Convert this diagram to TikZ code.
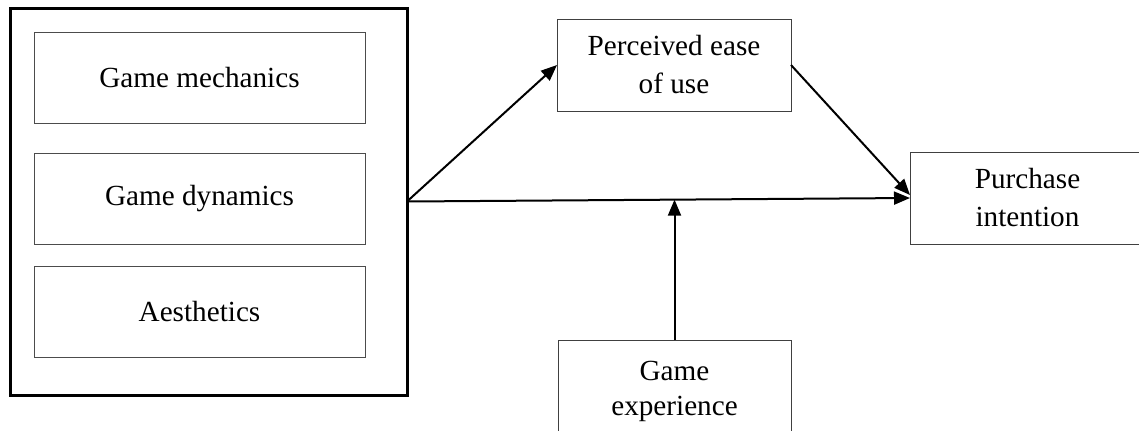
\documentclass[tikz,border=0pt]{standalone}
\usepackage{fontspec}
\setmainfont{Liberation Serif}
\usetikzlibrary{arrows.meta,calc}
\begin{document}
\begin{tikzpicture}[x=0.5pt,y=-0.5pt,
  every node/.style={inner sep=0pt,outer sep=0pt},
  bigfont/.style={font=\fontsize{14.6pt}{19pt}\selectfont},
  gefont/.style={font=\fontsize{14.6pt}{17.5pt}\selectfont},
  innerbox/.style={draw=black!70,line width=0.5pt,minimum width=165.5pt,minimum height=45.5pt,bigfont},
  factorbox/.style={draw=black!75,line width=0.5pt,align=center},
  groupbox/.style={draw=black,line width=1.5pt,minimum width=198.5pt,minimum height=193.5pt},
  link/.style={line width=1pt,-{Triangle[length=8pt,width=6.5pt]}}
]
\useasboundingbox (0,0) rectangle (1139,430);
\node[groupbox] (outer) at (208.5,201.5) {};
\node[innerbox] (mech) at (199.5,77.5) {Game mechanics};
\node[innerbox] (dyn) at (199.5,198.5) {Game dynamics};
\node[innerbox] (aes) at (199.5,311.5) {Aesthetics};
\node[factorbox,bigfont,minimum width=117pt,minimum height=46pt] (peou) at (674,65) {Perceived ease\\of use};
\node[factorbox,bigfont,minimum width=117.5pt,minimum height=46pt] (pi) at (1027.5,198) {Purchase\\intention};
\node[factorbox,gefont,minimum width=116.5pt,minimum height=51pt] (ge) at (674.5,391) {Game\\experience};
\coordinate (mod) at ($(outer.east)!0.533!(pi.west)$);
\draw[link] (outer.east) -- (peou.west);
\draw[link] (outer.east) -- (pi.west);
\draw[link] (peou.east) -- ([yshift=1.5pt]pi.west);
\draw[link] (ge.north) -- (ge.north |- mod);
\end{tikzpicture}
\end{document}
